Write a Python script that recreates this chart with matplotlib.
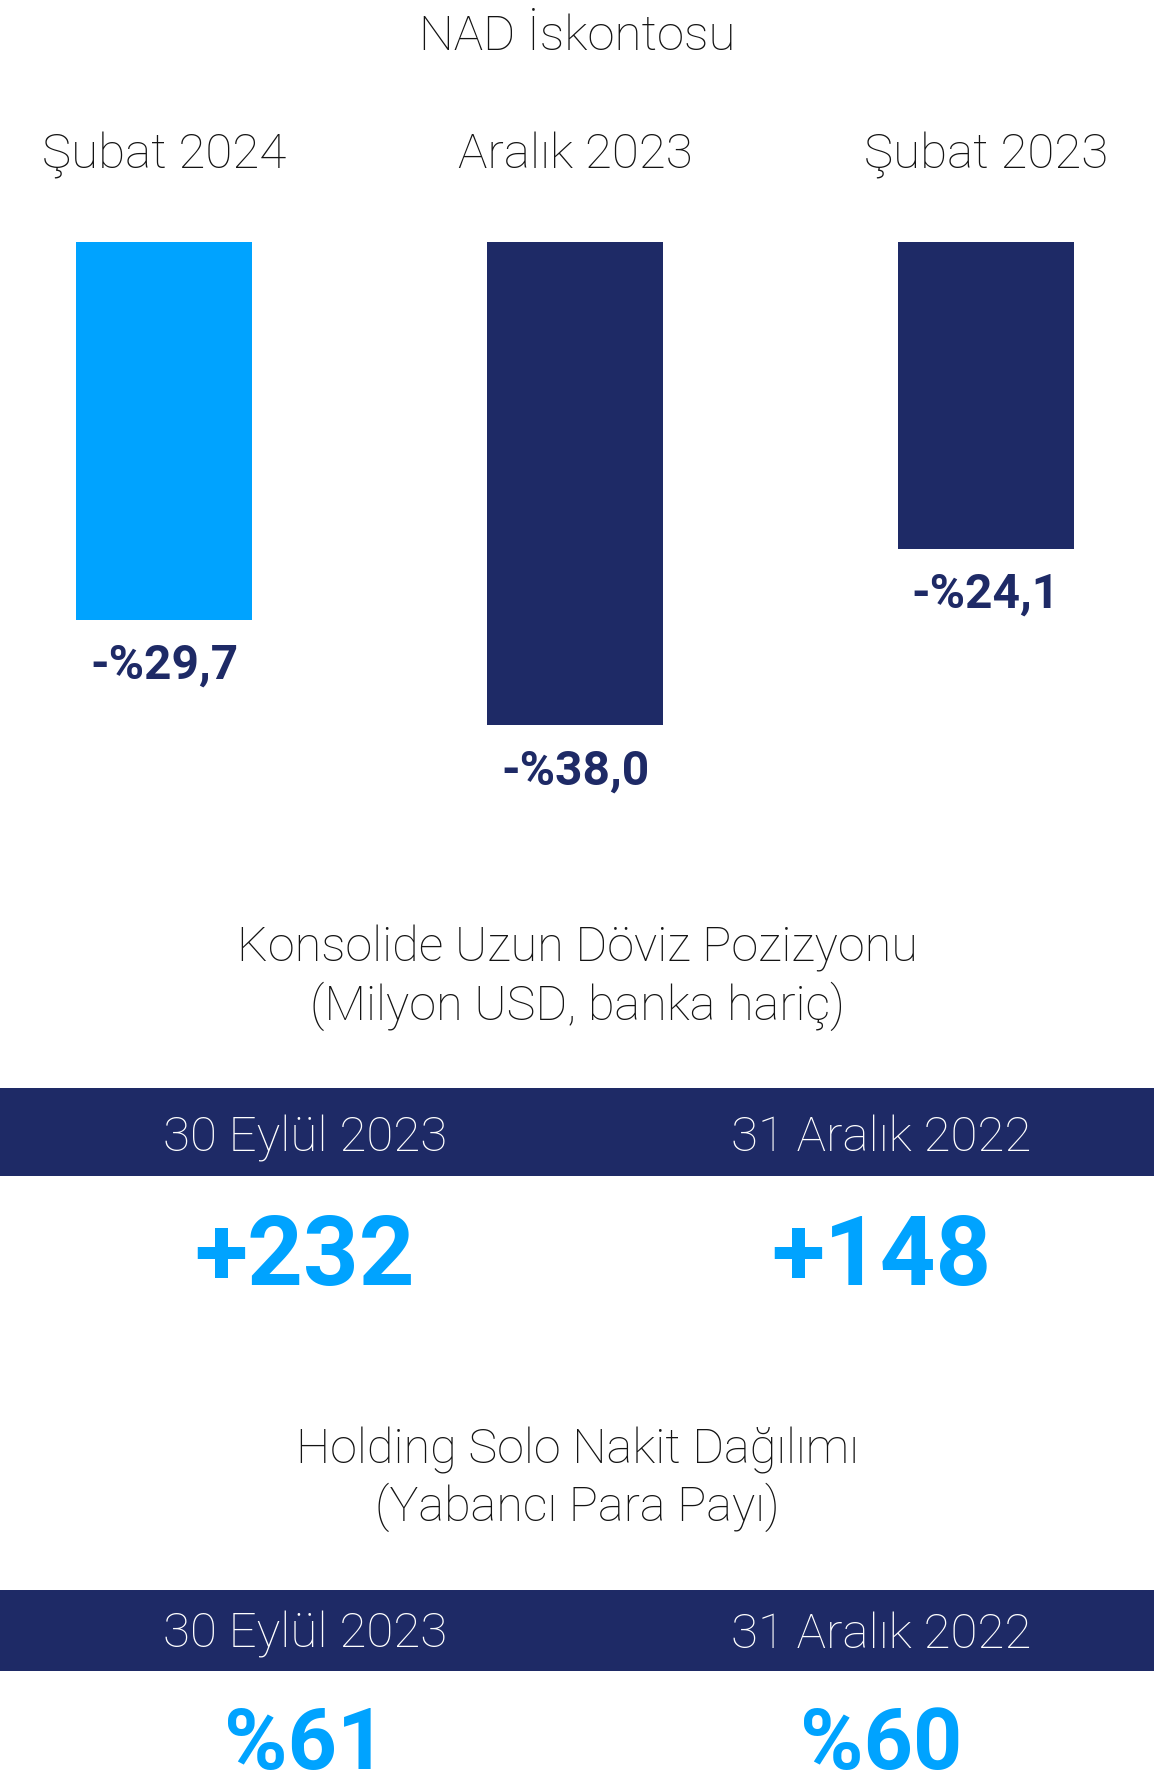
import matplotlib
matplotlib.use("Agg")
import matplotlib.pyplot as plt
from matplotlib.patches import Rectangle

# ---- data ----
nad_periods = ["Şubat 2024", "Aralık 2023", "Şubat 2023"]
nad_discount = [-29.7, -38.0, -24.1]
nad_colors = ["#00a3ff", "#1e2a66", "#1e2a66"]

fx_title = ["Konsolide Uzun Döviz Pozizyonu", "(Milyon USD, banka hariç)"]
fx_dates = ["30 Eylül 2023", "31 Aralık 2022"]
fx_position = [232, 148]

cash_title = ["Holding Solo Nakit Dağılımı", "(Yabancı Para Payı)"]
cash_dates = ["30 Eylül 2023", "31 Aralık 2022"]
cash_fx_share = [61, 60]

# ---- layout ----
W, H = 1154, 1777
DPI = 100
NAVY = "#1e2a66"
SKY = "#00a3ff"
INK = "#141414"
FONT = ["Roboto", "DejaVu Sans"]

plt.rcParams["font.family"] = FONT

fig = plt.figure(figsize=(W / DPI, H / DPI), dpi=DPI)
fig.patch.set_facecolor("white")


def put(x, y, s, size, color=INK, weight="light", ha="center"):
    """Place text at pixel position (x from left, y baseline from top)."""
    fig.text(x / W, 1 - y / H, s, fontsize=size, color=color,
             fontweight=weight, ha=ha, va="baseline")


def band(y0, y1):
    fig.patches.append(Rectangle((0, 1 - y1 / H), 1, (y1 - y0) / H,
                                 transform=fig.transFigure,
                                 facecolor=NAVY, edgecolor="none", zorder=0))


# NAD discount bars
put(577, 50, "NAD İskontosu", 35.5)

px_per_unit = 12.72
bar_top = 242
ymin = -40
ax_h = -ymin * px_per_unit
step = 411.0
first_center = 164.0
ax = fig.add_axes([0, 1 - (bar_top + ax_h) / H, 1, ax_h / H])
ax.set_xlim(-first_center / step, (W - first_center) / step)
ax.set_ylim(ymin, 0)
ax.axis("off")

xs = list(range(len(nad_periods)))
ax.bar(xs, nad_discount, width=176 / step, color=nad_colors, align="center")
for i, (p, v) in enumerate(zip(nad_periods, nad_discount)):
    ax.annotate(p, xy=(i, 0), xytext=(0, 74 * 72 / DPI), textcoords="offset points",
                ha="center", va="baseline", fontsize=35.5, color=INK,
                fontweight="light", annotation_clip=False)
    label = f"-%{abs(v):.1f}".replace(".", ",")
    ax.annotate(label, xy=(i, v), xytext=(0, -59 * 72 / DPI), textcoords="offset points",
                ha="center", va="baseline", fontsize=34.5, color=NAVY,
                fontweight="bold", annotation_clip=False)

# Consolidated long FX position
put(577, 962, fx_title[0], 35)
put(577, 1020, fx_title[1], 35)
band(1088, 1176)
fx_x = [305, 881]
for x, d, v in zip(fx_x, fx_dates, fx_position):
    put(x, 1151, d, 35.5, color="white")
    put(x, 1285, f"+{v}", 70, color=SKY, weight="bold")

# Holding solo cash breakdown
put(577, 1463, cash_title[0], 35)
put(577, 1521, cash_title[1], 35)
band(1590, 1671)
for x, d, v in zip(fx_x, cash_dates, cash_fx_share):
    put(x, 1648, d, 35.5, color="white")
    put(x, 1769, f"%{v}", 62, color=SKY, weight="bold")

fig.savefig("out.png", dpi=DPI, facecolor="white")
